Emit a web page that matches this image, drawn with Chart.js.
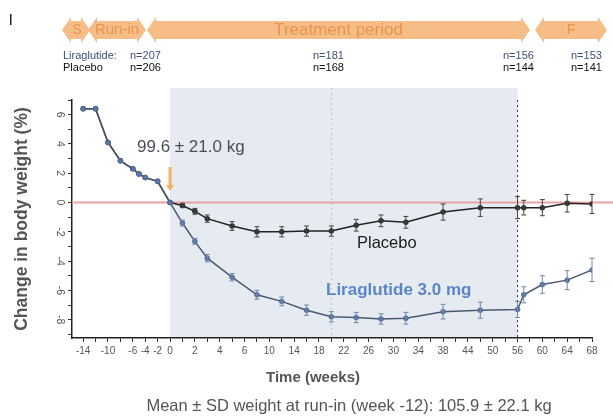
<!DOCTYPE html>
<html><head><meta charset="utf-8">
<script src="https://cdn.jsdelivr.net/npm/chart.js@4.4.0/dist/chart.umd.min.js"></script>
<style>html,body{margin:0;padding:0;background:#fff;}#wrap{position:relative;width:613px;height:419px;}</style>
</head><body><div id="wrap"><canvas id="c" width="613" height="419"></canvas></div>
<script>
// ---- data ----
const weeks = [-14,-12,-10,-8,-6,-5,-4,-2,0,2,4,6,10,14,18,22,26,30,34,38,44,50,56,57,60,64,68];
const placeboValues = [6.4,6.4,4.1,2.85,2.3,1.95,1.7,1.45,0,-0.2,-0.6,-1.1,-1.6,-2.0,-2.0,-1.95,-1.95,-1.55,-1.25,-1.35,-0.65,-0.35,-0.35,-0.35,-0.35,-0.05,-0.1];
const placeboErrors = [0,0,0,0,0,0,0,0,0,0.15,0.2,0.25,0.3,0.35,0.35,0.35,0.35,0.4,0.4,0.4,0.55,0.6,0.75,0.5,0.55,0.6,0.65];
const liraValues = [6.4,6.4,4.1,2.85,2.3,1.95,1.7,1.45,0,-1.4,-2.65,-3.8,-5.1,-6.3,-6.75,-7.35,-7.8,-7.85,-7.95,-7.9,-7.45,-7.35,-7.3,-6.3,-5.6,-5.3,-4.6];
const liraErrors = [0,0,0,0,0,0,0,0,0,0.2,0.2,0.25,0.25,0.3,0.3,0.35,0.35,0.35,0.35,0.4,0.5,0.55,0.55,0.55,0.6,0.65,0.8];
const xTickLabelsPre = ['-14','-10','-6','-4','-2'];
const xTickLabelsPost = ['0','2','4','6','10','14','18','22','26','30','34','38','44','50','56','60','64','68'];
const phaseNames = ['S','Run-in','Treatment period','F'];
const nLiraglutide = ['n=207','n=181','n=156','n=153'];
const nPlacebo = ['n=206','n=168','n=144','n=141'];

const FONT = '"Liberation Sans", Arial, sans-serif';

function pts(vals){ return weeks.map((w,i)=>({x:w,y:vals[i]})); }

// ---- decoration plugins ----
const backdrop = {
  id:'backdrop',
  beforeDraw(chart){
    const {ctx, chartArea:a, scales:{x}} = chart;
    ctx.save();
    ctx.fillStyle = '#e6ebf1';
    const x0 = x.getPixelForValue(0), x1 = x.getPixelForValue(56);
    ctx.fillRect(x0, a.top-12, x1-x0, a.bottom-(a.top-12));
    ctx.restore();
  },
  beforeDatasetsDraw(chart){
    const {ctx, chartArea:a, scales:{x,y}} = chart;
    ctx.save();
    ctx.strokeStyle = '#eaa2a2'; ctx.lineWidth = 2;
    const y0 = y.getPixelForValue(0);
    ctx.beginPath(); ctx.moveTo(a.left, y0); ctx.lineTo(chart.width, y0); ctx.stroke();
    ctx.setLineDash([2,3]); ctx.lineWidth = 1;
    ctx.strokeStyle = '#b9bfc8';
    let xv = x.getPixelForValue(26);
    ctx.beginPath(); ctx.moveTo(xv, a.top-12); ctx.lineTo(xv, a.bottom); ctx.stroke();
    ctx.strokeStyle = '#333';
    xv = x.getPixelForValue(56);
    ctx.beginPath(); ctx.moveTo(xv, a.top); ctx.lineTo(xv, a.bottom); ctx.stroke();
    ctx.setLineDash([]);
    const xo = x.getPixelForValue(0);
    ctx.strokeStyle = '#f3b062'; ctx.lineWidth = 3;
    ctx.beginPath(); ctx.moveTo(xo, 167); ctx.lineTo(xo, 186); ctx.stroke();
    ctx.fillStyle = '#f3b062';
    ctx.beginPath(); ctx.moveTo(xo-4,185); ctx.lineTo(xo+4,185); ctx.lineTo(xo,191); ctx.closePath(); ctx.fill();
    ctx.restore();
  }
};

const errorBars = {
  id:'errorBars',
  afterDatasetsDraw(chart){
    const {ctx, scales:{y}} = chart;
    chart.data.datasets.forEach((ds,i)=>{
      const meta = chart.getDatasetMeta(i);
      ctx.save(); ctx.strokeStyle = ds.errColor; ctx.lineWidth = 1;
      meta.data.forEach((el,j)=>{
        const e = ds.errors[j]; if(!e) return;
        const v = ds.data[j].y;
        const yt = y.getPixelForValue(v+e), yb = y.getPixelForValue(v-e);
        ctx.beginPath();
        ctx.moveTo(el.x, yt); ctx.lineTo(el.x, yb);
        ctx.moveTo(el.x-2.5, yt); ctx.lineTo(el.x+2.5, yt);
        ctx.moveTo(el.x-2.5, yb); ctx.lineTo(el.x+2.5, yb);
        ctx.stroke();
      });
      ctx.restore();
    });
  }
};

function dblArrow(ctx, x1, x2, yc, bh, hh, hw){
  ctx.beginPath();
  ctx.moveTo(x1, yc);
  ctx.lineTo(x1+hw, yc-hh/2); ctx.lineTo(x1+hw, yc-bh/2);
  ctx.lineTo(x2-hw, yc-bh/2); ctx.lineTo(x2-hw, yc-hh/2);
  ctx.lineTo(x2, yc);
  ctx.lineTo(x2-hw, yc+hh/2); ctx.lineTo(x2-hw, yc+bh/2);
  ctx.lineTo(x1+hw, yc+bh/2); ctx.lineTo(x1+hw, yc+hh/2);
  ctx.closePath(); ctx.fill();
}

const texts = {
  id:'texts',
  afterDraw(chart){
    const ctx = chart.ctx;
    ctx.save();
    ctx.fillStyle = '#222'; ctx.fillRect(10,14,1.5,11);
    const spans = [[62,90],[88,146],[147,530],[535,607]];
    ctx.fillStyle = '#f6bd86';
    spans.forEach(s=>dblArrow(ctx, s[0], s[1], 30, 18, 26, 9));
    ctx.fillStyle = '#e8944e';
    ctx.textAlign='center'; ctx.textBaseline='middle';
    const pf = [14, 15, 17, 14];
    spans.forEach((s,i)=>{ ctx.font = pf[i]+'px '+FONT; ctx.fillText(phaseNames[i], (s[0]+s[1])/2 + (i===0?1:0), 30); });
    ctx.font = '11px '+FONT; ctx.textAlign='left';
    ctx.fillStyle = '#3d4f7a'; ctx.fillText('Liraglutide:', 63, 56);
    ctx.fillStyle = '#111'; ctx.fillText('Placebo', 63, 68);
    const nx = [130, 313, 503, 571];
    nx.forEach((x,i)=>{
      ctx.fillStyle = '#3d4f7a'; ctx.fillText(nLiraglutide[i], x, 56);
      ctx.fillStyle = '#111'; ctx.fillText(nPlacebo[i], x, 68);
    });
    ctx.fillStyle = '#4a4f58'; ctx.font = '17px '+FONT;
    ctx.fillText('99.6 \u00b1 21.0 kg', 137, 147);
    ctx.fillStyle = '#1a1a1a'; ctx.font = '16.5px '+FONT;
    ctx.fillText('Placebo', 357, 243);
    ctx.fillStyle = '#5a86c6'; ctx.font = 'bold 17px '+FONT;
    ctx.fillText('Liraglutide 3.0 mg', 326, 290);
    ctx.textAlign='center';
    ctx.fillStyle = '#555'; ctx.font = 'bold 15px '+FONT;
    ctx.fillText('Time (weeks)', 313, 378);
    ctx.fillStyle = '#555'; ctx.font = '16.5px '+FONT;
    ctx.fillText('Mean \u00b1 SD weight at run-in (week -12): 105.9 \u00b1 22.1 kg', 349, 406);
    ctx.restore();
  }
};

new Chart(document.getElementById('c'), {
  type:'line',
  data:{ datasets:[
    { label:'Liraglutide 3.0 mg', data:pts(liraValues), errors:liraErrors, errColor:'#6f87a8',
      borderColor:'#4a5870', borderWidth:1.5, pointRadius:2.5, pointBackgroundColor:'#5877a6', pointBorderColor:'#4a5f80', pointBorderWidth:0.5, tension:0 },
    { label:'Placebo', data:pts(placeboValues), errors:placeboErrors, errColor:'#444',
      borderColor:'#222', borderWidth:1.5, pointRadius:2, pointBackgroundColor:'#333', pointBorderColor:'#333', tension:0 }
  ]},
  options:{
    responsive:false, animation:false,
    layout:{padding:{top:100,right:21,left:0,bottom:0}},
    plugins:{legend:{display:false}, tooltip:{enabled:false}},
    scales:{
      x:{ type:'linear', min:-15.8, max:68,
        afterBuildTicks(s){ const t=[]; for(let v=-14; v<=68; v+=2) t.push({value:v}); s.ticks=t; },
        afterFit(s){ s.height = 81; },
        ticks:{ autoSkip:false, maxRotation:0, minRotation:0, padding:3, color:'#555', font:{family:FONT,size:10},
          callback(v){ if(v<0) return xTickLabelsPre.includes(String(v)) ? String(v) : ''; if(v%4===0) return xTickLabelsPost[v/4] ?? ''; return ''; } },
        grid:{drawOnChartArea:false, drawTicks:true, tickLength:4, color:'#333'},
        border:{display:true, color:'#222', width:1.5},
        title:{display:false}
      },
      y:{ min:-9.25, max:7,
        afterBuildTicks(s){ const t=[]; for(let v=-9; v<=7; v++) t.push({value:v}); s.ticks=t; },
        afterFit(s){ s.width = 72; },
        ticks:{ autoSkip:false, minRotation:-90, maxRotation:-90, crossAlign:'center', padding:3, color:'#555', font:{family:FONT,size:10.5},
          callback(v){ return (v%2===0) ? String(v) : ''; } },
        grid:{drawOnChartArea:false, drawTicks:true, tickLength:4, color:'#333'},
        border:{display:true, color:'#222', width:1.5},
        title:{display:true, text:'Change in body weight (%)', color:'#555', font:{family:FONT,size:17.5,weight:'bold'}, padding:{top:12,bottom:0}}
      }
    }
  },
  plugins:[backdrop, errorBars, texts]
});
</script></body></html>
